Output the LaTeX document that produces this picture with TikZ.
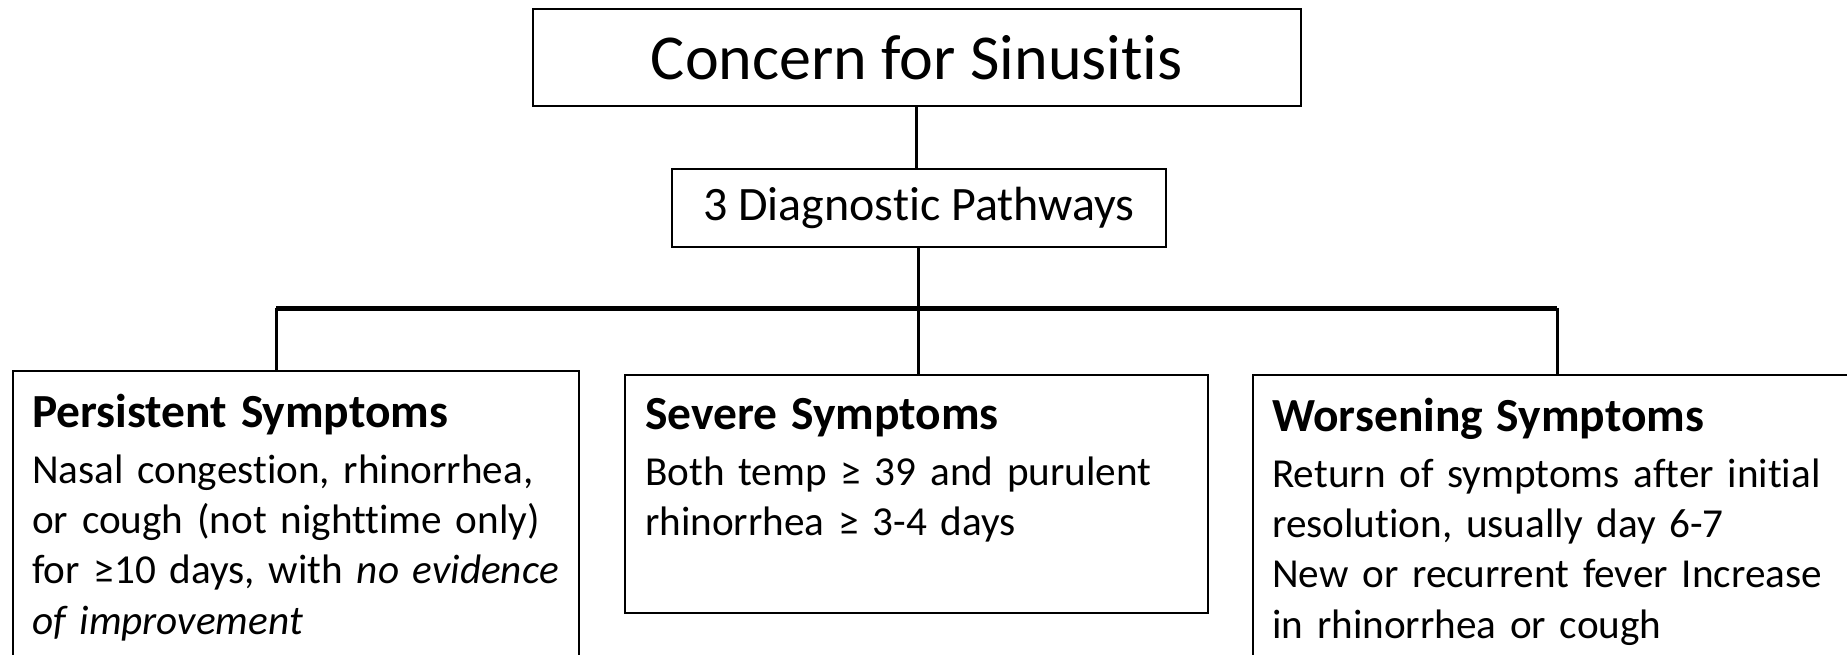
\documentclass[tikz,border=0pt]{standalone}
\usepackage{fontspec}
\setmainfont{Carlito}[Ligatures={NoCommon,NoContextual}]
\usetikzlibrary{positioning}

\tikzset{
  box/.style={draw, line width=1.6pt, inner sep=0pt, anchor=north west},
  paneltext/.style={anchor=north west, inner sep=0pt, text width=560pt, align=left,
    font=\fontsize{41.2}{50.3}\selectfont},
  link/.style={line width=3pt},
  bar/.style={line width=5pt},
}
\newcommand{\panelhead}[1]{{\bfseries\fontsize{47.5}{55}\selectfont #1\par}\vspace{5.4pt}}

\begin{document}
\begin{tikzpicture}[x=1pt, y=-1pt]
\useasboundingbox (0,0) rectangle (1847,654);
% top of the tree
\node[box, minimum width=768pt, minimum height=97pt, font=\fontsize{64}{70}\selectfont] (concern) at (532,8) {Concern for Sinusitis};
\node[box, minimum width=494pt, minimum height=78pt, font=\fontsize{48}{56}\selectfont] (paths) at (671,168) {3 Diagnostic Pathways};
% the three pathways
\node[box, minimum width=566pt, minimum height=330pt] (persist) at (12,370) {};
\node[box, minimum width=583pt, minimum height=238pt] (severe) at (624,374) {};
\node[box, minimum width=640pt, minimum height=330pt] (worse) at (1252,374) {};
\node[paneltext] (persisttxt) at ([shift={(20,24)}]persist.north west) {\panelhead{Persistent Symptoms}
  Nasal congestion, rhinorrhea,\\ or cough (not nighttime only)\\ for ≥10 days, with \textit{no evidence}\\ \textit{of improvement}};
\node[paneltext] (severetxt) at ([shift={(21,24)}]severe.north west) {\panelhead{Severe Symptoms}
  Both temp ≥ 39 and purulent\\ rhinorrhea ≥ 3-4 days};
\node[paneltext] (worsetxt) at ([shift={(20,24)}]worse.north west) {\panelhead{Worsening Symptoms}
  Return of symptoms after initial\\ resolution, usually day 6-7\\ New or recurrent fever Increase\\ in rhinorrhea or cough};
% connectors
\coordinate (barL) at (276,308);
\coordinate (barR) at (1557,308);
\draw[link] (concern.south) -- (concern.south |- paths.north);
\draw[link] (paths.south) -- (paths.south |- severe.north);
\draw[bar] (barL) -- (barR);
\draw[link] (barL) -- (barL |- persist.north);
\draw[link] (barR) -- (barR |- worse.north);
\end{tikzpicture}
\end{document}
